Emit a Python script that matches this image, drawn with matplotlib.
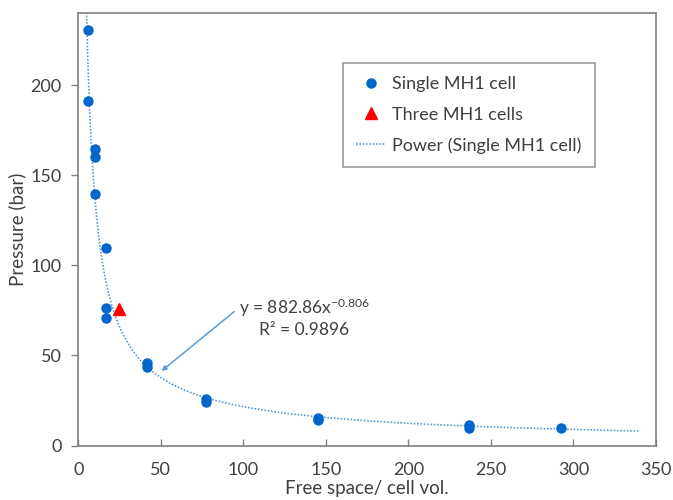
import matplotlib
matplotlib.use("Agg")
import matplotlib.pyplot as plt
import numpy as np

plt.rcParams["font.family"] = ["Lato", "DejaVu Sans"]
plt.rcParams["mathtext.fontset"] = "custom"
plt.rcParams["mathtext.rm"] = "Lato"
plt.rcParams["font.size"] = 13

# Single cell measurements
free_space_single = [5.7, 5.9, 10.4, 10.2, 10.2, 16.5, 16.5, 16.5, 41.4, 41.4,
                     77.2, 77.2, 145.0, 145.0, 236.5, 236.5, 292.5]
pressure_single = [230.5, 191.3, 164.4, 160.4, 139.8, 109.8, 76.5, 70.7, 46.0, 43.8,
                   25.7, 24.2, 15.3, 14.3, 11.4, 9.9, 9.9]

# Three cell measurement
free_space_three = [24.7]
pressure_three = [76.0]

# Power-law trendline of the single cell data
fit_coef = 882.86
fit_exp = -0.806
fit_r2 = 0.9896
fit_range = (4.0, 340.5)

x_ticks = [0, 50, 100, 150, 200, 250, 300, 350]
y_ticks = [0, 50, 100, 150, 200]

BLUE = "#0066CC"
LIGHT_BLUE = "#5B9BD5"
GREY = "#808080"
TEXT = "#404040"

fig = plt.figure(figsize=(6.73, 5.0), dpi=100)
ax = fig.add_axes([0.1163, 0.109, 0.8584, 0.8644])

xs = np.linspace(fit_range[0], fit_range[1], 600)
ax.plot(free_space_single, pressure_single, "o", color=BLUE, markersize=6.5,
        label="Single MH1 cell", zorder=3)
ax.plot(free_space_three, pressure_three, "^", color="#FF0000", markersize=8,
        label="Three MH1 cells", zorder=3)
ax.plot(xs, fit_coef * xs ** fit_exp, color=LIGHT_BLUE, linewidth=1.2,
        linestyle=(0, (1, 1)), label="Power (Single MH1 cell)", zorder=2)

ax.set_xlim(0, 350)
ax.set_ylim(0, 240)
ax.set_xticks(x_ticks)
ax.set_yticks(y_ticks)

for s in ax.spines.values():
    s.set_color(GREY)
    s.set_linewidth(1.2)
ax.tick_params(axis="x", direction="in", length=5, width=1, color=GREY,
               labelcolor=TEXT, labelsize=13, pad=12)
ax.tick_params(axis="y", direction="out", length=5, width=1, color=GREY,
               labelcolor=TEXT, labelsize=13, pad=7)

ax.set_xlabel("Free space/ cell vol.", fontsize=13.5, color=TEXT, labelpad=1)
ax.set_ylabel("Pressure (bar)", fontsize=13.5, color=TEXT, labelpad=3)

# trendline equation with arrow
eq = "y = 882.86$\\mathregular{x^{-0.806}}$\nR² = " + f"{fit_r2:.4f}"
ax.text(137, 71, eq, ha="center", va="center", fontsize=12.5, color=TEXT,
        multialignment="center", linespacing=1.25)
ax.annotate("", xy=(50.5, 41.4), xytext=(94.4, 74.3),
            arrowprops=dict(arrowstyle="-|>", color=LIGHT_BLUE, lw=1.1,
                            mutation_scale=7, shrinkA=0, shrinkB=0))

leg = ax.legend(loc="upper left", bbox_to_anchor=(0.509, 0.8746),
                bbox_transform=fig.transFigure, fancybox=False, frameon=True,
                edgecolor=GREY, fontsize=13, borderpad=0.75, labelspacing=0.8,
                handlelength=1.6, handletextpad=0.4, borderaxespad=0)
leg.get_frame().set_linewidth(1.2)
for t in leg.get_texts():
    t.set_color(TEXT)

fig.savefig("out.png", dpi=100)
